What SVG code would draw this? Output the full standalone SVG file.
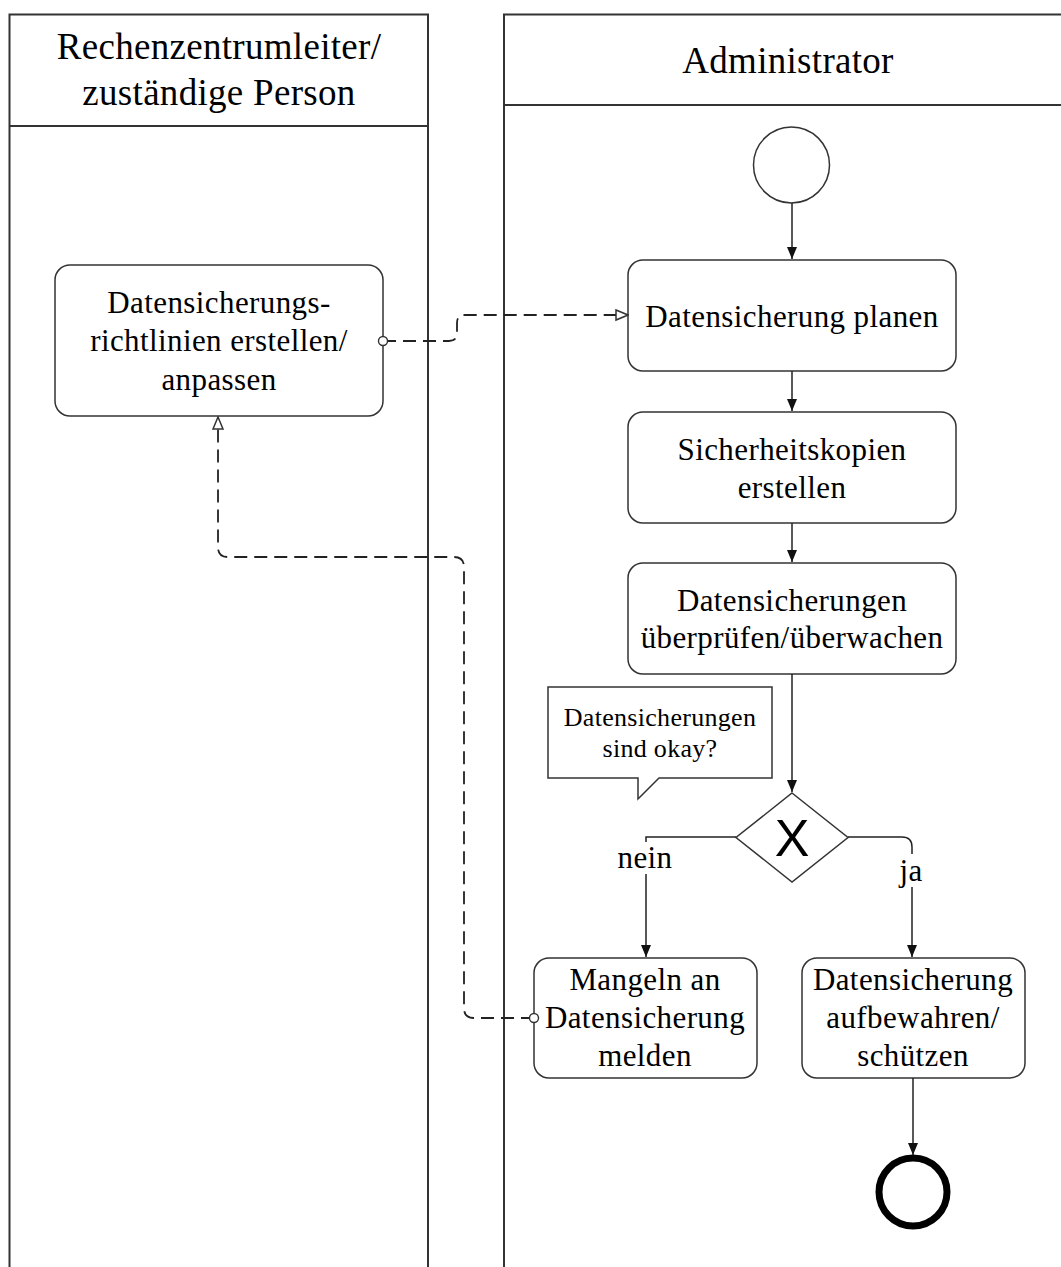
<svg xmlns="http://www.w3.org/2000/svg" width="1061" height="1267" viewBox="0 0 1061 1267">
  <style>
    .lane { fill: #fff; stroke: #333; stroke-width: 2; }
    .task { fill: #fff; stroke: #333; stroke-width: 1.5; }
    .t { font-family: "Liberation Serif", "Times New Roman", serif; fill: #000; text-anchor: middle; dominant-baseline: central; }
    .hdr { font-size: 37px; letter-spacing: 0.3px; }
    .box { font-size: 31px; letter-spacing: 0.4px; }
    .note { font-size: 26px; letter-spacing: 0.3px; }
    .flow { fill: none; stroke: #222; stroke-width: 1.5; }
    .assoc { fill: none; stroke: #222; stroke-width: 1.8; stroke-dasharray: 13 7; }
  </style>
  <defs>
    <marker id="arrow" markerUnits="userSpaceOnUse" markerWidth="12" markerHeight="12" refX="12" refY="6" orient="auto">
      <path d="M0,1 L12,6 L0,11 z" fill="#111"/>
    </marker>
    <marker id="open" markerUnits="userSpaceOnUse" markerWidth="14" markerHeight="14" refX="13" refY="7" orient="auto">
      <path d="M1,2 L13,7 L1,12 z" fill="#fff" stroke="#333" stroke-width="1.5"/>
    </marker>
    <marker id="dot" markerUnits="userSpaceOnUse" markerWidth="14" markerHeight="14" refX="7" refY="7" orient="auto">
      <circle cx="7" cy="7" r="4.5" fill="#fff" stroke="#333" stroke-width="1.4"/>
    </marker>
  </defs>
  <rect width="1061" height="1267" fill="#fff"/>

  <!-- swimlanes -->
  <g id="lane-leiter">
    <rect class="lane" x="9.5" y="14.5" width="418.5" height="1270"/>
    <line x1="9.5" y1="126" x2="428" y2="126" stroke="#333" stroke-width="2"/>
    <text class="t hdr" x="219" y="46">Rechenzentrumleiter/</text>
    <text class="t hdr" x="219" y="92">zuständige Person</text>
  </g>
  <g id="lane-admin">
    <rect class="lane" x="504" y="14.5" width="580" height="1270"/>
    <line x1="504" y1="105" x2="1061" y2="105" stroke="#333" stroke-width="2"/>
    <text class="t hdr" x="788" y="60">Administrator</text>
  </g>

  <!-- nodes -->
  <g id="start">
    <circle cx="791.5" cy="165" r="38" fill="#fff" stroke="#333" stroke-width="1.5"/>
  </g>
  <g id="task-richtlinien">
    <rect class="task" x="55" y="265" width="328" height="151" rx="15"/>
    <text class="t box" x="219" y="302">Datensicherungs-</text>
    <text class="t box" x="219" y="340">richtlinien erstellen/</text>
    <text class="t box" x="219" y="379">anpassen</text>
  </g>
  <g id="task-planen">
    <rect class="task" x="628" y="260" width="328" height="111" rx="15"/>
    <text class="t box" x="792" y="316">Datensicherung planen</text>
  </g>
  <g id="task-kopien">
    <rect class="task" x="628" y="412" width="328" height="111" rx="15"/>
    <text class="t box" x="792" y="449">Sicherheitskopien</text>
    <text class="t box" x="792" y="487">erstellen</text>
  </g>
  <g id="task-pruefen">
    <rect class="task" x="628" y="563" width="328" height="111" rx="15"/>
    <text class="t box" x="792" y="600">Datensicherungen</text>
    <text class="t box" x="792" y="637">überprüfen/überwachen</text>
  </g>
  <g id="note">
    <path d="M548,687 H772 V778 H659 L638,799 V778 H548 Z" fill="#fff" stroke="#333" stroke-width="1.5"/>
    <text class="t note" x="660" y="717">Datensicherungen</text>
    <text class="t note" x="660" y="748">sind okay?</text>
  </g>
  <g id="gateway">
    <path d="M792,793 L848,837.5 L792,882 L736,837.5 Z" fill="#fff" stroke="#333" stroke-width="1.5"/>
    <text x="792" y="838" font-family="Liberation Sans, Arial, sans-serif" font-size="52" text-anchor="middle" dominant-baseline="central" fill="#000">X</text>
  </g>
  <g id="task-mangeln">
    <rect class="task" x="534" y="958" width="223" height="120" rx="15"/>
    <text class="t box" x="645" y="979">Mangeln an</text>
    <text class="t box" x="645" y="1017">Datensicherung</text>
    <text class="t box" x="645" y="1055">melden</text>
  </g>
  <g id="task-aufbewahren">
    <rect class="task" x="802" y="958" width="223" height="120" rx="15"/>
    <text class="t box" x="913" y="979">Datensicherung</text>
    <text class="t box" x="913" y="1017">aufbewahren/</text>
    <text class="t box" x="913" y="1055">schützen</text>
  </g>
  <g id="end">
    <circle cx="913" cy="1192" r="34" fill="#fff" stroke="#000" stroke-width="7"/>
  </g>

  <!-- connectors -->
  <g id="connectors">
    <path class="flow" d="M792,203 V259" marker-end="url(#arrow)"/>
    <path class="flow" d="M792,371 V411" marker-end="url(#arrow)"/>
    <path class="flow" d="M792,523 V562" marker-end="url(#arrow)"/>
    <path class="flow" d="M792,674 V792" marker-end="url(#arrow)"/>
    <path class="flow" d="M736,837 H646 V957" marker-end="url(#arrow)"/>
    <path class="flow" d="M848,837 H902 Q912,837 912,847 V957" marker-end="url(#arrow)"/>
    <path class="flow" d="M913,1078 V1155" marker-end="url(#arrow)"/>
    <path class="assoc" d="M383,341 H449 Q457,341 457,333 V323 Q457,315 465,315 H628" marker-start="url(#dot)" marker-end="url(#open)"/>
    <path class="assoc" d="M534,1018 H474 Q464,1018 464,1008 V567 Q464,557 454,557 H228 Q218,557 218,547 V417" marker-start="url(#dot)" marker-end="url(#open)"/>
    <!-- flow labels -->
    <rect x="612" y="842" width="66" height="32" fill="#fff"/>
    <text class="t box" x="645" y="857">nein</text>
    <rect x="894" y="854" width="36" height="33" fill="#fff"/>
    <text class="t box" x="911" y="870">ja</text>
  </g>
</svg>
